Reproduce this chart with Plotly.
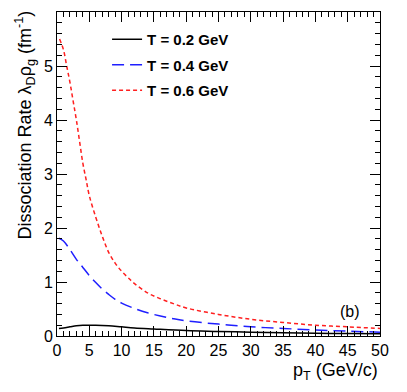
import plotly.graph_objects as go

# p_T (GeV/c) and dissociation rate (fm^-1)
pt_02 = [0.3, 1, 2, 3, 4, 5, 6, 8, 10, 12, 15, 20, 25, 30, 35, 40, 45, 50]
rate_02 = [0.14, 0.15, 0.17, 0.19, 0.2, 0.2, 0.2, 0.19, 0.17, 0.15, 0.13, 0.1, 0.085, 0.07, 0.06, 0.05, 0.045, 0.04]

pt_04 = [0.3, 1, 2, 3, 4, 5, 6, 7, 8, 9, 10, 12, 14, 16, 18, 20, 25, 30, 35, 40, 45, 50]
rate_04 = [1.81, 1.76, 1.6, 1.42, 1.27, 1.12, 0.99, 0.87, 0.77, 0.68, 0.61, 0.51, 0.43, 0.37, 0.32, 0.28, 0.22, 0.17, 0.14, 0.11, 0.09, 0.07]

pt_06 = [0.4, 1, 1.5, 2, 2.5, 3, 3.5, 4, 4.5, 5, 6, 7, 8, 9, 10, 11, 12, 14, 16, 18, 20, 25, 30, 35, 40, 45, 50]
rate_06 = [5.5, 5.3, 5.0, 4.7, 4.35, 4.0, 3.6, 3.2, 2.9, 2.6, 2.2, 1.85, 1.55, 1.35, 1.2, 1.08, 0.97, 0.8, 0.69, 0.6, 0.52, 0.4, 0.31, 0.25, 0.2, 0.17, 0.14]

labels = ["T = 0.2 GeV", "T = 0.4 GeV", "T = 0.6 GeV"]

FONT = "Liberation Sans, Arial"

fig = go.Figure()
fig.add_trace(go.Scatter(x=pt_02, y=rate_02, mode="lines", name=labels[0], legendgroup="a",
                         line=dict(color="black", width=1.5, shape="spline")))
fig.add_trace(go.Scatter(x=pt_04, y=rate_04, mode="lines", name=labels[1], legendgroup="b",
                         line=dict(color="#1f1fff", width=1.5, dash="12px,6px", shape="spline")))
fig.add_trace(go.Scatter(x=pt_06, y=rate_06, mode="lines", name=labels[2], legendgroup="c",
                         line=dict(color="#ff1f1f", width=1.5, dash="4px,3px", shape="spline")))

axis_common = dict(
    showgrid=False, zeroline=False, showline=True, linecolor="black", linewidth=1,
    mirror="ticks", ticks="inside", ticklen=10, tickcolor="black",
    tickfont=dict(family=FONT, size=16, color="black"),
)

# page body has an 8px margin, so the margins are shifted to keep the frame in place
fig.update_layout(
    width=407, height=392,
    margin=dict(l=49, r=35, t=4, b=64),
    paper_bgcolor="white", plot_bgcolor="white",
    xaxis=dict(range=[0, 50], dtick=5, minor=dict(dtick=1, ticks="inside", ticklen=5, tickcolor="black"), **axis_common),
    yaxis=dict(range=[0, 6], dtick=1, minor=dict(dtick=0.2, ticks="inside", ticklen=5, tickcolor="black"), **axis_common),
    legend=dict(x=0.155, y=0.966, xanchor="left", yanchor="top", bgcolor="rgba(0,0,0,0)",
                font=dict(family=FONT, size=15, color="black", weight="bold"),
                tracegroupgap=3),
    showlegend=True,
    annotations=[
        dict(text="Dissociation Rate λ<sub>D</sub>ρ<sub>g</sub> (fm<sup>-1</sup>)", xref="paper", yref="paper",
             x=-32 / 323, y=1 + 3 / 324, xanchor="center", yanchor="top", textangle=-90, showarrow=False,
             font=dict(family=FONT, size=18, color="black")),
        dict(text="p<sub>T</sub> (GeV/c)", xref="paper", yref="paper", x=1, y=-22 / 324,
             xanchor="right", yanchor="top", showarrow=False,
             font=dict(family=FONT, size=18, color="black")),
        dict(text="(b)", xref="paper", yref="paper", x=0.945, y=0.075, xanchor="right", yanchor="middle",
             showarrow=False, font=dict(family=FONT, size=16, color="black")),
    ],
)

fig.write_html("out.html")
